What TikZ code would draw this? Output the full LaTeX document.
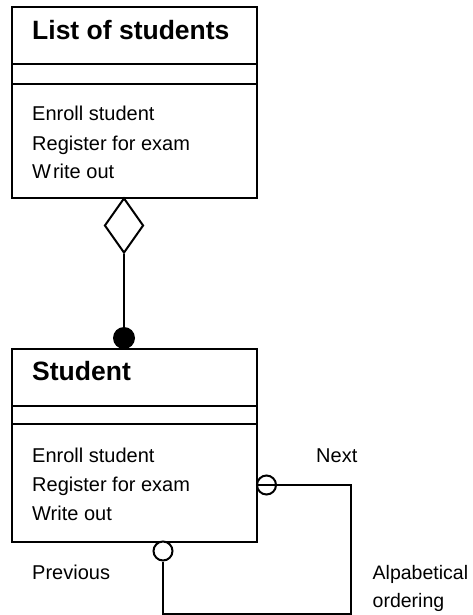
\documentclass[tikz,border=0pt]{standalone}
\usepackage{fontspec}
\setmainfont{Liberation Sans}
\usetikzlibrary{shapes.geometric}
\begin{document}
\begin{tikzpicture}[x=1pt,y=-1pt,
  classbox/.style={draw,line width=2pt,rectangle,inner sep=0pt,minimum width=245pt},
  title/.style={anchor=base west,inner sep=0pt,font=\fontsize{26.5}{30}\selectfont\bfseries},
  op/.style={anchor=base west,inner sep=0pt,font=\fontsize{20}{24}\selectfont},
  link/.style={line width=2pt},
  endmark/.style={circle,draw,line width=2pt,inner sep=0pt,minimum size=19pt,fill=white}]
\useasboundingbox (0,0) rectangle (472,615);

% class: List of students
\node[classbox,minimum height=191pt] (list) at (134.5,102.5) {};
\draw[link] (12,64) -- (257,64) (12,84) -- (257,84);
\node[title] (listname) at (32,40) {List of students};
\node[op] (l1) at (32,121) {Enroll student};
\node[op] (l2) at (32,150) {Register for exam};
\node[op] (l3) at (32,178.5) {W\kern2pt rite out};

% class: Student
\node[classbox,minimum height=193pt] (student) at (134.5,445.5) {};
\draw[link] (12,406) -- (257,406) (12,424) -- (257,424);
\node[title] (stname) at (32,380) {Student};
\node[op] (s1) at (32,462) {Enroll student};
\node[op] (s2) at (32,491) {Register for exam};
\node[op] (s3) at (32,520) {Write out};

% aggregation
\node[diamond,draw,line width=2pt,inner sep=0pt,minimum width=39pt,minimum height=55pt,fill=white] (agg) at (124,225.5) {};
\node[circle,fill=black,inner sep=0pt,minimum size=22pt] (dot) at (124,338) {};
\draw[link] (agg.south) -- (dot.center);

% self association
\node[endmark] (nxt) at (266.5,485) {};
\node[endmark] (prv) at (163,551) {};
\coordinate (c1) at (351,485);
\coordinate (c2) at (351,613.5);
\coordinate (c3) at (163,613.5);
\draw[link] (nxt.west) -- (c1) -- (c2) -- (c3) -- (prv.south);

\node[op] (next) at (316,462) {Next};
\node[op] (prev) at (32,579) {Previous};
\node[op,font=\fontsize{19.5}{24}\selectfont] (ord1) at (372.5,579) {Alpabetical};
\node[op,font=\fontsize{19.5}{24}\selectfont] (ord2) at (372.5,607) {ordering};
\end{tikzpicture}
\end{document}
